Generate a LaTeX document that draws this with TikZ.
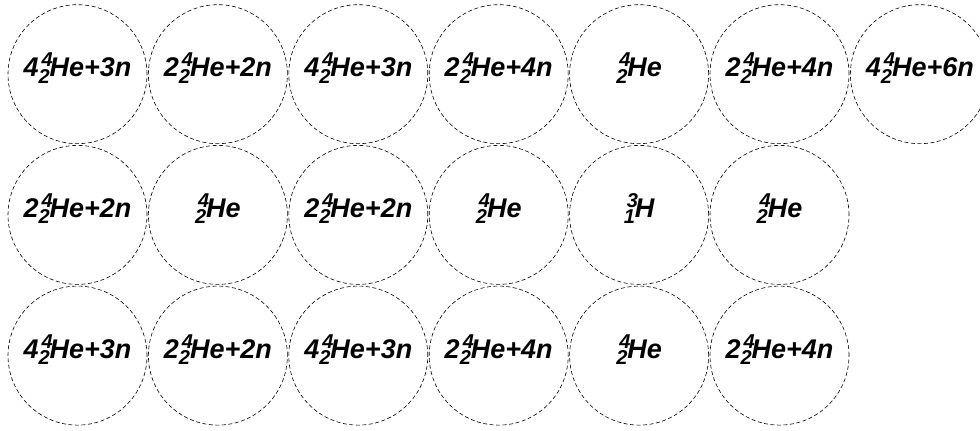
\documentclass[tikz,border=0pt]{standalone}
\usepackage{fontspec}
\setmainfont{Liberation Sans}
\newcommand{\nucl}[2]{{\fontsize{20}{20}\selectfont\rlap{\hspace{3pt}\raisebox{10pt}{#1}}\raisebox{-6.5pt}{#2}}}
\newcommand{\He}{\nucl{4}{2}He}
\newcommand{\mycell}[4]{%
  \node[ring] (c#1) at ({77.5+140.4*(#2-1)},{431-74.2-140.7*(#3-1)}) {};
  \node[lbl] (t#1) at ([yshift=-2.5pt]c#1.center) {#4};}
\begin{document}
\begin{tikzpicture}[x=1pt,y=1pt,
  ring/.style={circle, draw, dash pattern=on 4pt off 2.5pt, line width=0.6pt, minimum size=139pt, inner sep=0pt, outer sep=0pt},
  lbl/.style={font=\fontsize{27}{27}\selectfont\bfseries\itshape, inner sep=0pt, anchor=base}]
\useasboundingbox (0,0) rectangle (980,431);
\mycell{11}{1}{1}{4\He+3n}
\mycell{12}{2}{1}{2\He+2n}
\mycell{13}{3}{1}{4\He+3n}
\mycell{14}{4}{1}{2\He+4n}
\mycell{15}{5}{1}{\He}
\mycell{16}{6}{1}{2\He+4n}
\mycell{17}{7}{1}{4\He+6n}
\mycell{21}{1}{2}{2\He+2n}
\mycell{22}{2}{2}{\He}
\mycell{23}{3}{2}{2\He+2n}
\mycell{24}{4}{2}{\He}
\mycell{25}{5}{2}{\nucl{3}{1}H}
\mycell{26}{6}{2}{\He}
\mycell{31}{1}{3}{4\He+3n}
\mycell{32}{2}{3}{2\He+2n}
\mycell{33}{3}{3}{4\He+3n}
\mycell{34}{4}{3}{2\He+4n}
\mycell{35}{5}{3}{\He}
\mycell{36}{6}{3}{2\He+4n}
\end{tikzpicture}
\end{document}
